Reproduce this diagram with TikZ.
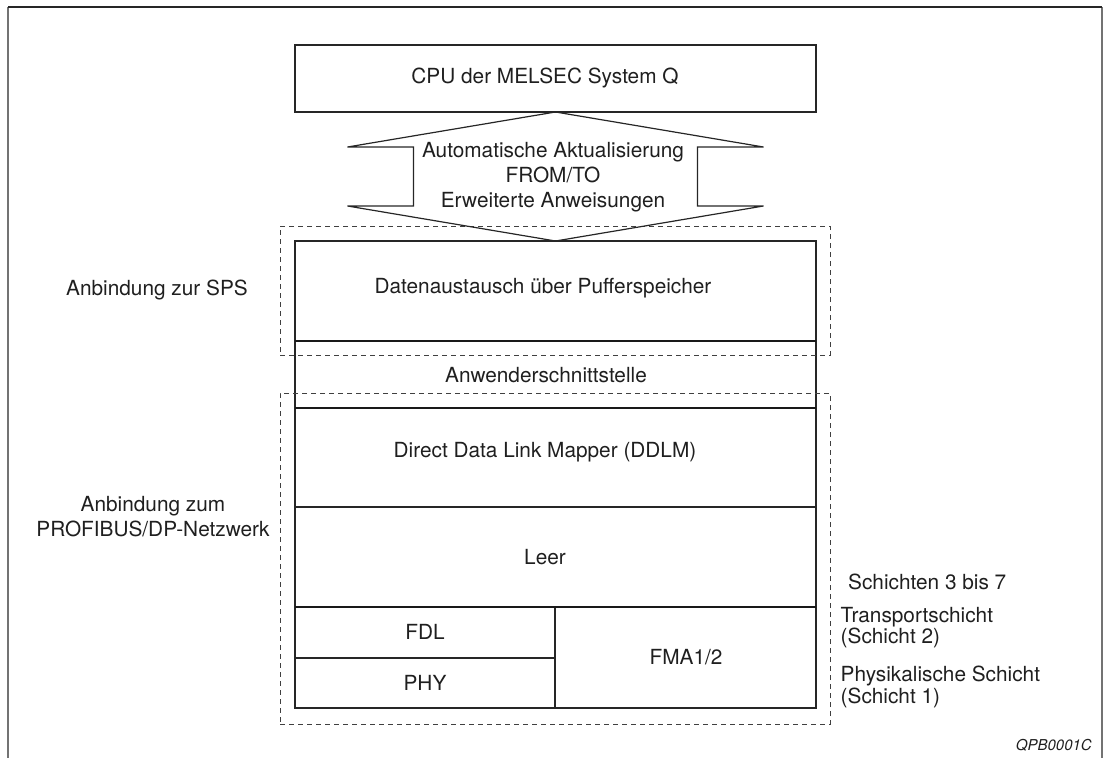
\documentclass[tikz,border=0pt]{standalone}
\usepackage{fontspec}
\setmainfont{TeX Gyre Heros}
\begin{document}
\begin{tikzpicture}[x=1pt,y=-1pt,
  box/.style={draw=black!85, line width=1.2pt, inner sep=0pt, outer sep=0pt, anchor=north west},
  grp/.style={draw=black!75, line width=1pt, dash pattern=on 5pt off 4pt, inner sep=0pt, outer sep=0pt, anchor=north west},
  txt/.style={text=black!88, font=\fontsize{20.8}{25}\selectfont, inner sep=0pt, align=center},
  side/.style={text=black!88, font=\fontsize{20.8}{21.5}\selectfont, inner sep=0pt, align=left, anchor=west},
  sepline/.style={draw=black!90, line width=2.2pt},
  arrowshape/.style={draw=black!85, line width=1.2pt, line join=miter}]
\useasboundingbox (0,0) rectangle (1104,758);
% frame
\draw[draw=black!55, line width=1.8pt] (8,758) -- (8,7);
\draw[draw=black!55, line width=1.8pt] (1102,758) -- (1102,7);
\draw[draw=black!85, line width=1.2pt] (8,7) -- (1102,7);
% boxes
\node[box, minimum width=521, minimum height=67] (cpu) at (295,45) {};
\node[box, minimum width=521, minimum height=100] (daten) at (295,241) {};
\node[box, minimum width=521, minimum height=67] (anw) at (295,341) {};
\node[box, minimum width=521, minimum height=99] (ddlm) at (295,408) {};
\node[box, minimum width=521, minimum height=100] (leer) at (295,507) {};
\node[box, minimum width=260, minimum height=51] (fdl) at (295,607) {};
\node[box, minimum width=260, minimum height=50] (phy) at (295,658) {};
\node[box, minimum width=261, minimum height=101] (fma) at (555,607) {};
\draw[sepline] (daten.south west) -- (daten.south east);
\draw[sepline] (anw.south west) -- (anw.south east);
\draw[sepline] (leer.south west) -- (leer.south east);
% groups
\node[grp, minimum width=550, minimum height=129] (g1) at (280,226) {};
\node[grp, minimum width=550, minimum height=331] (g2) at (280,393) {};
% double arrow
\draw[arrowshape] (cpu.south) -- ++(208,35) -- ++(-66,0) -- ++(0,59) -- ++(66,0)
  -- (daten.north) -- ++(-208,-35) -- ++(66,0) -- ++(0,-59) -- ++(-66,0) -- cycle;
% texts
\node[txt] (cput) at (545,78) {CPU der MELSEC System Q};
\node[txt] (arrt) at (553,177) {Automatische Aktualisierung\\FROM/TO\\Erweiterte Anweisungen};
\node[txt] (datent) at (543,288) {Datenaustausch über Pufferspeicher};
\node[txt] (anwt) at (546,375) {Anwenderschnittstelle};
\node[txt] (ddlmt) at (545,452) {Direct Data Link Mapper (DDLM)};
\node[txt] (leert) at (545,557) {Leer};
\node[txt] (fdlt) at (425,632) {FDL};
\node[txt] (phyt) at (425,683) {PHY};
\node[txt] (fmat) at (686,657) {FMA1/2};
\node[txt] (sps) at (157,290) {Anbindung zur SPS};
\node[txt] (dp) at (153,517) {Anbindung zum\\PROFIBUS/DP-Netzwerk};
\node[side] (s37) at (848,582) {Schichten 3 bis 7};
\node[side] (s2) at (840.5,627.5) {Transportschicht\\(Schicht 2)};
\node[side] (s1) at (840.5,687) {Physikalische Schicht\\(Schicht 1)};
\node[text=black!88, font=\fontsize{15}{18}\selectfont\itshape, inner sep=0pt, anchor=east] (qpb) at (1092,745) {QPB0001C};
\end{tikzpicture}
\end{document}
